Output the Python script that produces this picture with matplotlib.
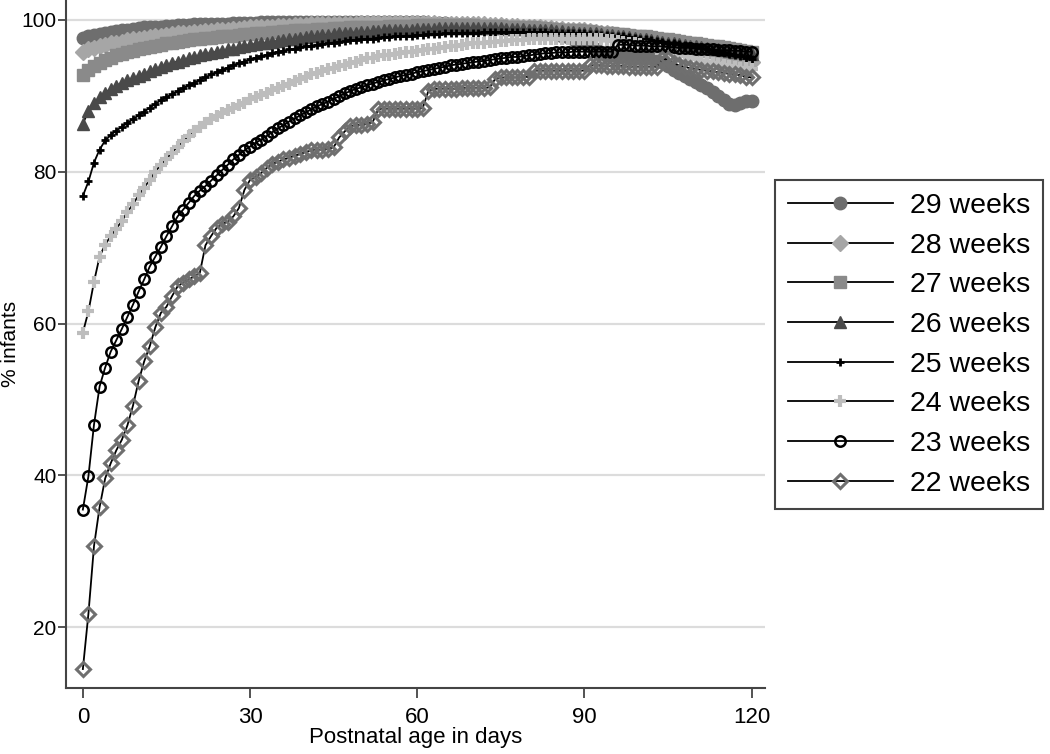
import matplotlib
matplotlib.use("Agg")
import matplotlib.pyplot as plt

# percent of infants by postnatal day (0..120), one list per gestational age
days = list(range(121))

w29 = [97.6, 97.8, 98.0, 98.1, 98.3, 98.4, 98.5, 98.6, 98.7, 98.8, 98.9,
       99.0, 99.0, 99.1, 99.1, 99.2, 99.2, 99.3, 99.3, 99.3, 99.4, 99.4,
       99.4, 99.5, 99.5, 99.5, 99.5, 99.6, 99.6, 99.6, 99.6, 99.6, 99.7,
       99.7, 99.7, 99.7, 99.7, 99.7, 99.7, 99.7, 99.7, 99.7, 99.7, 99.7,
       99.7, 99.7, 99.7, 99.7, 99.7, 99.7, 99.7, 99.7, 99.7, 99.7, 99.7,
       99.7, 99.7, 99.7, 99.7, 99.7, 99.7, 99.7, 99.6, 99.6, 99.6, 99.6,
       99.5, 99.5, 99.5, 99.4, 99.4, 99.3, 99.3, 99.2, 99.2, 99.1, 99.0,
       99.0, 98.9, 98.8, 98.7, 98.6, 98.5, 98.4, 98.3, 98.1, 97.9, 97.7,
       97.5, 97.2, 96.9, 96.5, 96.1, 95.7, 95.4, 95.3, 95.2, 95.2, 95.1,
       95.1, 95.1, 95.0, 95.0, 94.8, 94.4, 93.9, 93.4, 93.0, 92.6, 92.2,
       91.8, 91.4, 91.0, 90.5, 90.0, 89.4, 88.9, 88.8, 89.1, 89.3, 89.3]

w28 = [95.8, 96.1, 96.3, 96.5, 96.7, 96.9, 97.0, 97.1, 97.3, 97.4, 97.5,
       97.6, 97.7, 97.8, 97.9, 98.0, 98.1, 98.2, 98.2, 98.3, 98.4, 98.4,
       98.5, 98.5, 98.6, 98.7, 98.7, 98.8, 98.8, 98.9, 99.0, 99.0, 99.0,
       99.1, 99.1, 99.2, 99.2, 99.2, 99.3, 99.3, 99.3, 99.4, 99.4, 99.4,
       99.4, 99.5, 99.5, 99.5, 99.5, 99.5, 99.6, 99.6, 99.6, 99.6, 99.6,
       99.6, 99.6, 99.6, 99.6, 99.6, 99.6, 99.6, 99.6, 99.6, 99.5, 99.5,
       99.5, 99.5, 99.5, 99.4, 99.4, 99.4, 99.4, 99.3, 99.3, 99.3, 99.2,
       99.2, 99.2, 99.1, 99.1, 99.0, 99.0, 98.9, 98.9, 98.8, 98.8, 98.7,
       98.7, 98.6, 98.6, 98.5, 98.4, 98.3, 98.2, 98.1, 98.0, 97.9, 97.8,
       97.7, 97.5, 97.4, 97.2, 97.1, 96.9, 96.8, 96.6, 96.5, 96.3, 96.2,
       96.0, 95.9, 95.7, 95.6, 95.4, 95.3, 95.1, 95.0, 94.8, 94.7, 94.5]

w27 = [92.7, 93.4, 93.9, 94.3, 94.7, 95.0, 95.3, 95.5, 95.7, 95.9, 96.1,
       96.3, 96.4, 96.6, 96.7, 96.9, 97.0, 97.1, 97.2, 97.3, 97.4, 97.5,
       97.6, 97.6, 97.7, 97.8, 97.9, 97.9, 98.0, 98.1, 98.1, 98.2, 98.3,
       98.3, 98.4, 98.4, 98.5, 98.5, 98.6, 98.6, 98.7, 98.7, 98.8, 98.8,
       98.8, 98.9, 98.9, 98.9, 99.0, 99.0, 99.0, 99.1, 99.1, 99.1, 99.1,
       99.2, 99.2, 99.2, 99.2, 99.2, 99.3, 99.3, 99.3, 99.3, 99.3, 99.3,
       99.3, 99.3, 99.3, 99.3, 99.3, 99.2, 99.2, 99.2, 99.2, 99.2, 99.1,
       99.1, 99.1, 99.0, 99.0, 99.0, 98.9, 98.9, 98.8, 98.8, 98.7, 98.7,
       98.6, 98.6, 98.5, 98.5, 98.4, 98.3, 98.3, 98.2, 98.1, 98.1, 98.0,
       97.9, 97.8, 97.8, 97.7, 97.6, 97.5, 97.4, 97.3, 97.2, 97.1, 97.0,
       96.9, 96.8, 96.7, 96.6, 96.5, 96.4, 96.3, 96.2, 96.0, 95.9, 95.8]

w26 = [86.3, 88.0, 89.0, 89.8, 90.4, 90.9, 91.3, 91.7, 92.0, 92.3, 92.6,
       92.9, 93.2, 93.5, 93.8, 94.0, 94.3, 94.5, 94.7, 94.9, 95.1, 95.3,
       95.5, 95.6, 95.8, 95.9, 96.1, 96.2, 96.4, 96.5, 96.7, 96.8, 96.9,
       97.0, 97.1, 97.2, 97.3, 97.4, 97.5, 97.6, 97.7, 97.8, 97.9, 98.0,
       98.0, 98.1, 98.2, 98.2, 98.3, 98.3, 98.4, 98.4, 98.5, 98.5, 98.6,
       98.6, 98.6, 98.7, 98.7, 98.7, 98.8, 98.8, 98.8, 98.8, 98.9, 98.9,
       98.9, 98.9, 98.9, 98.9, 98.9, 98.9, 98.9, 98.9, 98.9, 98.9, 98.8,
       98.8, 98.8, 98.8, 98.7, 98.7, 98.7, 98.6, 98.6, 98.5, 98.5, 98.4,
       98.4, 98.3, 98.3, 98.2, 98.2, 98.1, 98.0, 98.0, 97.9, 97.8, 97.7,
       97.6, 97.5, 97.4, 97.3, 97.2, 97.1, 97.0, 96.9, 96.8, 96.7, 96.6,
       96.5, 96.4, 96.3, 96.2, 96.1, 96.0, 95.9, 95.8, 95.7, 95.6, 95.5]

w25 = [76.8, 78.7, 81.2, 82.9, 84.1, 84.8, 85.4, 85.9, 86.4, 86.9, 87.4,
       87.9, 88.4, 88.9, 89.4, 89.8, 90.2, 90.6, 91.0, 91.4, 91.7, 92.1,
       92.4, 92.8, 93.1, 93.4, 93.7, 94.0, 94.3, 94.5, 94.8, 95.0, 95.2,
       95.4, 95.6, 95.8, 95.9, 96.1, 96.2, 96.4, 96.5, 96.6, 96.7, 96.8,
       96.9, 97.0, 97.1, 97.2, 97.3, 97.3, 97.4, 97.5, 97.5, 97.6, 97.7,
       97.7, 97.8, 97.8, 97.9, 97.9, 98.0, 98.0, 98.1, 98.1, 98.1, 98.2,
       98.2, 98.2, 98.3, 98.3, 98.3, 98.3, 98.4, 98.4, 98.4, 98.4, 98.4,
       98.4, 98.4, 98.4, 98.4, 98.4, 98.4, 98.4, 98.3, 98.3, 98.3, 98.3,
       98.2, 98.2, 98.2, 98.1, 98.1, 98.0, 98.0, 97.9, 97.8, 97.8, 97.7,
       97.6, 97.5, 97.4, 97.3, 97.2, 97.1, 97.0, 96.9, 96.8, 96.7, 96.5,
       96.4, 96.3, 96.1, 96.0, 95.8, 95.7, 95.5, 95.3, 95.2, 95.0, 94.8]

w24 = [58.8, 61.6, 65.5, 68.8, 70.4, 71.5, 72.5, 73.5, 74.7, 75.7, 76.9,
       77.9, 78.9, 80.0, 80.9, 81.7, 82.5, 83.3, 84.0, 84.7, 85.3, 85.9,
       86.4, 86.9, 87.3, 87.7, 88.1, 88.4, 88.8, 89.1, 89.5, 89.8, 90.1,
       90.4, 90.7, 91.0, 91.3, 91.6, 91.9, 92.2, 92.5, 92.8, 93.0, 93.3,
       93.5, 93.7, 93.9, 94.1, 94.3, 94.5, 94.7, 94.9, 95.0, 95.2, 95.3,
       95.4, 95.5, 95.6, 95.7, 95.8, 95.9, 96.0, 96.1, 96.2, 96.3, 96.4,
       96.5, 96.6, 96.7, 96.8, 96.9, 96.9, 97.0, 97.1, 97.1, 97.2, 97.2,
       97.3, 97.3, 97.3, 97.4, 97.4, 97.4, 97.4, 97.5, 97.5, 97.5, 97.5,
       97.5, 97.5, 97.5, 97.4, 97.4, 97.4, 97.3, 97.3, 97.2, 97.1, 97.0,
       96.9, 96.8, 96.6, 96.4, 96.2, 96.0, 95.8, 95.6, 95.4, 95.2, 95.0,
       94.8, 94.6, 94.5, 94.3, 94.2, 94.0, 93.9, 93.8, 93.7, 93.6, 93.5]

w23 = [35.5, 39.9, 46.7, 51.7, 54.2, 56.3, 57.8, 59.3, 60.9, 62.5, 64.2,
       65.8, 67.5, 68.8, 70.1, 71.5, 72.8, 74.1, 75.0, 75.9, 76.8, 77.5,
       78.1, 78.8, 79.5, 80.2, 80.9, 81.6, 82.2, 82.8, 83.3, 83.8, 84.2,
       84.7, 85.2, 85.7, 86.1, 86.6, 87.0, 87.4, 87.8, 88.2, 88.6, 88.9,
       89.2, 89.6, 89.9, 90.3, 90.6, 90.9, 91.1, 91.4, 91.6, 91.8, 92.0,
       92.2, 92.4, 92.6, 92.7, 92.9, 93.1, 93.2, 93.4, 93.5, 93.7, 93.8,
       94.0, 94.1, 94.2, 94.3, 94.4, 94.5, 94.6, 94.7, 94.8, 94.9, 95.0,
       95.1, 95.1, 95.2, 95.3, 95.4, 95.5, 95.6, 95.6, 95.7, 95.7, 95.7,
       95.8, 95.8, 95.8, 95.8, 95.8, 95.8, 95.8, 95.8, 96.7, 96.7, 96.7,
       96.6, 96.6, 96.6, 96.5, 96.5, 96.5, 96.4, 96.4, 96.3, 96.3, 96.3,
       96.2, 96.2, 96.1, 96.1, 96.0, 96.0, 96.0, 95.9, 95.9, 95.8, 95.8]

w22 = [14.5, 21.8, 30.7, 35.8, 39.6, 41.6, 43.3, 44.7, 46.6, 49.2, 52.4,
       55.0, 57.0, 59.5, 61.4, 62.2, 63.6, 64.9, 65.4, 65.8, 66.2, 66.7,
       70.3, 71.5, 72.6, 73.1, 73.4, 74.1, 75.2, 77.6, 78.9, 79.3, 79.8,
       80.5, 81.0, 81.3, 81.6, 81.8, 82.1, 82.3, 82.6, 82.8, 82.9, 82.9,
       83.0, 83.2, 84.5, 85.3, 86.0, 86.1, 86.2, 86.3, 86.5, 88.2, 88.3,
       88.3, 88.3, 88.3, 88.3, 88.3, 88.3, 88.4, 90.6, 90.9, 90.9, 90.9,
       90.9, 90.9, 91.0, 91.0, 91.0, 91.0, 91.0, 91.1, 92.2, 92.4, 92.4,
       92.4, 92.4, 92.4, 92.5, 93.3, 93.3, 93.3, 93.3, 93.3, 93.3, 93.3,
       93.3, 93.3, 93.3, 94.0, 94.0, 94.0, 93.9, 93.9, 93.9, 93.9, 93.8,
       93.8, 93.8, 93.8, 93.8, 93.8, 94.8, 94.8, 94.3, 94.0, 93.8, 93.6,
       93.5, 93.4, 93.3, 93.2, 93.1, 93.0, 92.9, 92.8, 92.7, 92.5, 92.4]

labels = ["29 weeks", "28 weeks", "27 weeks", "26 weeks",
          "25 weeks", "24 weeks", "23 weeks", "22 weeks"]
series = [w29, w28, w27, w26, w25, w24, w23, w22]

# marker, size, face, edge, edge width
styles = [
    ("o", 9, "#6e6e6e", "#6e6e6e", 1.0),
    ("D", 8, "#a6a6a6", "#a6a6a6", 1.0),
    ("s", 8, "#8a8a8a", "#8a8a8a", 1.0),
    ("^", 9, "#4a4a4a", "#4a4a4a", 1.0),
    ("+", 6, "black", "black", 2.0),
    ("+", 9, "#bdbdbd", "#bdbdbd", 3.0),
    ("o", 7.5, "none", "black", 1.8),
    ("D", 7.5, "none", "#6f6f6f", 2.2),
]

plt.rcParams['font.family'] = ['Liberation Sans', 'DejaVu Sans']

fig = plt.figure(figsize=(10.5, 7.54), dpi=100)
ax = fig.add_axes([0.063, 0.0875, 0.666, 0.9125])

for y, lab, (m, ms, fc, ec, mew) in zip(series, labels, styles):
    ax.plot(days, y, color="black", lw=1.3, marker=m, markersize=ms,
            markerfacecolor=fc, markeredgecolor=ec, markeredgewidth=mew,
            label=lab)

ax.set_xlim(-3, 122.5)
ax.set_ylim(12, 102.6)
ax.set_xticks([0, 30, 60, 90, 120])
ax.set_yticks([20, 40, 60, 80, 100])
ax.yaxis.grid(True, color="#dcdcdc", lw=1.6)
ax.set_axisbelow(True)

for s in ["top", "right"]:
    ax.spines[s].set_visible(False)
for s in ["left", "bottom"]:
    ax.spines[s].set_color("#444444")
    ax.spines[s].set_linewidth(1.5)

ax.tick_params(axis="x", length=7, width=1.3, color="#444444", labelsize=16, pad=7)
ax.tick_params(axis="y", length=6, width=1.3, color="#444444", labelsize=15, pad=1)
ax.set_xlabel("Postnatal age in days", fontsize=16, labelpad=-1)
ax.set_ylabel("% infants", fontsize=15, labelpad=1)

leg = fig.legend(loc="upper left", bbox_to_anchor=(0.738, 0.761),
                 borderaxespad=0, fontsize=20.5, handlelength=3.7,
                 handletextpad=0.6, labelspacing=0.48, borderpad=0.45,
                 fancybox=False, framealpha=1, edgecolor="#444444")
leg.get_frame().set_linewidth(1.5)

fig.savefig("out.png", dpi=100)
